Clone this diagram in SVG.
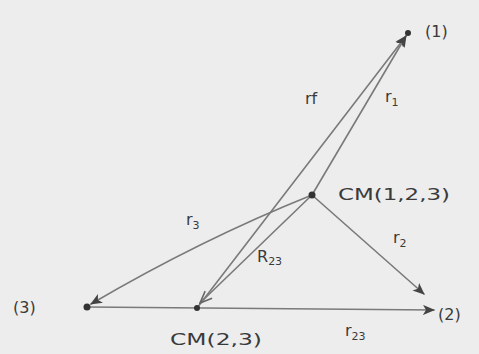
<svg xmlns="http://www.w3.org/2000/svg" width="479" height="354" viewBox="0 0 479 354">
<style>
.ln{stroke:#7a7a7a;stroke-width:1.6;fill:none;stroke-linecap:round}
.dot{fill:#333}
.t{font-family:"DejaVu Sans","Liberation Sans",sans-serif;fill:#3a3a3a;font-size:16px}
.s{font-size:11px}
</style>
<defs>
<marker id="af" viewBox="0 0 12 10" refX="11" refY="5" markerWidth="12" markerHeight="10" markerUnits="userSpaceOnUse" orient="auto">
<path d="M0,0 L12,5 L0,10 L3,5 Z" fill="#444"/>
</marker>
<marker id="ao" viewBox="0 0 14 12" refX="13" refY="6" markerWidth="14" markerHeight="12" markerUnits="userSpaceOnUse" orient="auto">
<path d="M1,1 L13,6 L1,11" fill="none" stroke="#666" stroke-width="1.6"/>
</marker>
</defs>
<rect width="479" height="354" fill="#ededed"/>
<g id="connectors">
<path class="ln" d="M197,308 L406,36" marker-end="url(#af)"/>
<path class="ln" d="M312,195 L406,36" marker-end="url(#af)"/>
<path class="ln" d="M312,195 L200,303" marker-end="url(#ao)"/>
<path class="ln" d="M312,195 Q200,240 91,304" marker-end="url(#af)"/>
<path class="ln" d="M312,195 L424,294" marker-end="url(#af)"/>
<path class="ln" d="M87,307 L434,310" marker-end="url(#af)"/>
</g>
<g id="p1">
<circle class="dot" cx="408" cy="33" r="3"/>
<text class="t" x="425" y="37" font-size="18">(1)</text>
</g>
<g id="cm123">
<circle class="dot" cx="312" cy="195" r="3.5"/>
<text class="t" x="338" y="200" font-size="17" textLength="112" lengthAdjust="spacingAndGlyphs">CM(1,2,3)</text>
</g>
<g id="p3">
<circle class="dot" cx="87" cy="307" r="3.5"/>
<text class="t" x="13" y="313" font-size="18">(3)</text>
</g>
<g id="cm23">
<circle class="dot" cx="197" cy="308" r="3"/>
<text class="t" x="170" y="345" font-size="17" textLength="92" lengthAdjust="spacingAndGlyphs">CM(2,3)</text>
</g>
<g id="p2">
<text class="t" x="438" y="320" font-size="17">(2)</text>
</g>
<g id="labels">
<text class="t" x="305" y="104" font-size="17">rf</text>
<text class="t" x="385" y="102" font-size="17">r<tspan class="s" dy="4">1</tspan></text>
<text class="t" x="186" y="225" font-size="17">r<tspan class="s" dy="4">3</tspan></text>
<text class="t" x="257" y="262" font-size="17">R<tspan class="s" dy="3">23</tspan></text>
<text class="t" x="393" y="243" font-size="17">r<tspan class="s" dy="4">2</tspan></text>
<text class="t" x="345" y="336" font-size="17">r<tspan class="s" dy="4">23</tspan></text>
</g>
</svg>
